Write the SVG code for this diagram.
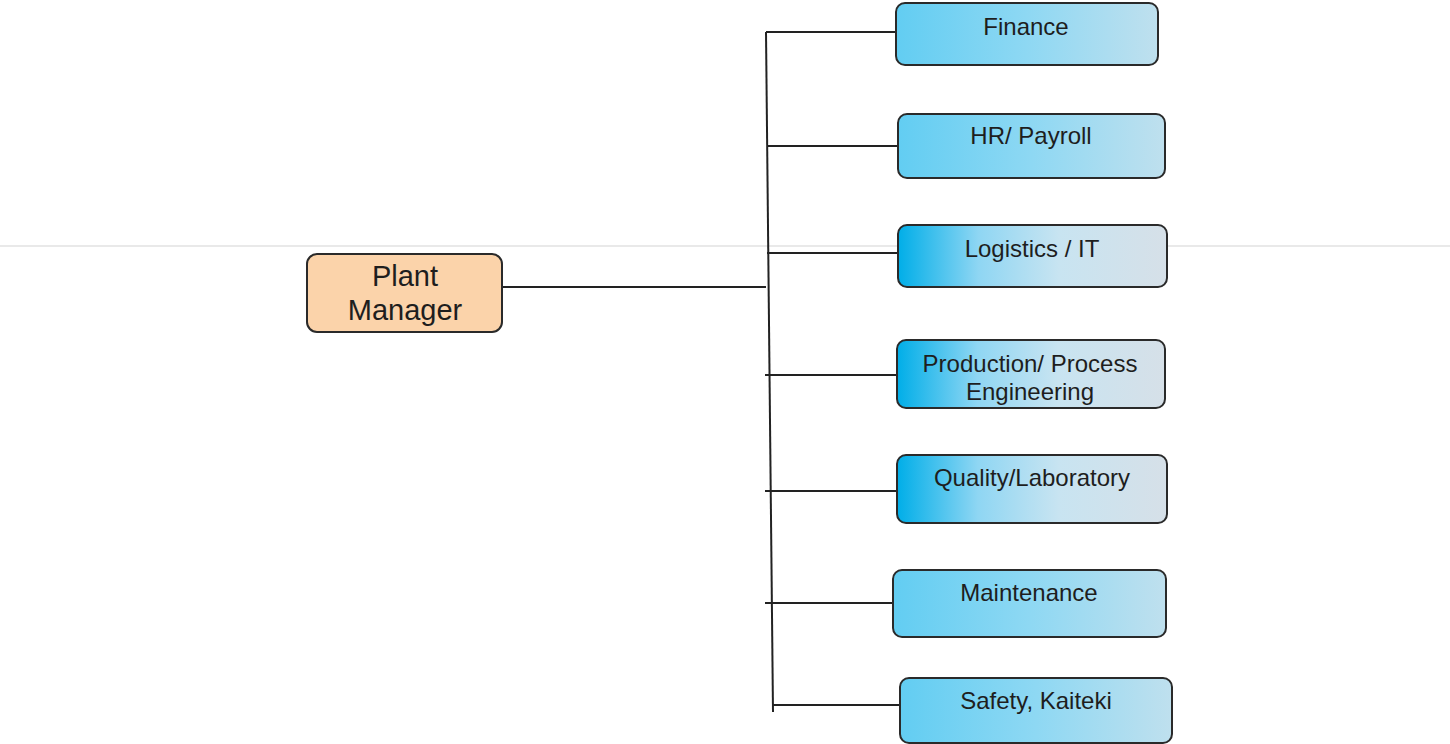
<svg xmlns="http://www.w3.org/2000/svg" width="1450" height="744" viewBox="0 0 1450 744">
<defs>
<linearGradient id="gA" x1="0" y1="0" x2="1" y2="0">
<stop offset="0" stop-color="#62cdf2"/>
<stop offset="0.5" stop-color="#8ed8f3"/>
<stop offset="1" stop-color="#bfe0ee"/>
</linearGradient>
<linearGradient id="gB" x1="0" y1="0" x2="1" y2="0">
<stop offset="0" stop-color="#00aee8"/>
<stop offset="0.3" stop-color="#8fd6f3"/>
<stop offset="0.6" stop-color="#c8e4f1"/>
<stop offset="1" stop-color="#d6e0e8"/>
</linearGradient>
<style>
.box{stroke:#2a2a2a;stroke-width:2}
.t{font-family:"Liberation Sans",Arial,sans-serif;font-size:24px;fill:#1e1e1e;text-anchor:middle}
.pm{font-family:"Liberation Sans",Arial,sans-serif;font-size:29px;fill:#1e1e1e;text-anchor:middle}
.c{stroke:#222;stroke-width:2;fill:none}
</style>
</defs>
<rect width="1450" height="744" fill="#ffffff"/>
<line x1="0" y1="246" x2="1450" y2="246" stroke="#e2e2e2" stroke-width="1.5"/>
<g id="connectors">
<line class="c" x1="766" y1="32" x2="773" y2="712"/>
<line class="c" x1="502" y1="287" x2="766" y2="287"/>
<line class="c" x1="766" y1="32" x2="897" y2="32"/>
<line class="c" x1="767" y1="146" x2="899" y2="146"/>
<line class="c" x1="767" y1="253" x2="899" y2="253"/>
<line class="c" x1="765" y1="375" x2="898" y2="375"/>
<line class="c" x1="765" y1="491" x2="898" y2="491"/>
<line class="c" x1="765" y1="603" x2="894" y2="603"/>
<line class="c" x1="773" y1="705" x2="901" y2="705"/>
</g>
<g id="plant-manager">
<rect class="box" x="307" y="254" width="195" height="78" rx="10" fill="#fbd3aa"/>
<text class="pm" x="405" y="286">Plant</text>
<text class="pm" x="405" y="320">Manager</text>
</g>
<g id="finance">
<rect class="box" x="896" y="3" width="262" height="62" rx="9" fill="url(#gA)"/>
<text class="t" x="1026" y="35">Finance</text>
</g>
<g id="hr-payroll">
<rect class="box" x="898" y="114" width="267" height="64" rx="9" fill="url(#gA)"/>
<text class="t" x="1031" y="144">HR/ Payroll</text>
</g>
<g id="logistics-it">
<rect class="box" x="898" y="225" width="269" height="62" rx="9" fill="url(#gB)"/>
<text class="t" x="1032" y="257">Logistics / IT</text>
</g>
<g id="production">
<rect class="box" x="897" y="340" width="268" height="68" rx="9" fill="url(#gB)"/>
<text class="t" x="1030" y="372">Production/ Process</text>
<text class="t" x="1030" y="400">Engineering</text>
</g>
<g id="quality">
<rect class="box" x="897" y="455" width="270" height="68" rx="9" fill="url(#gB)"/>
<text class="t" x="1032" y="486">Quality/Laboratory</text>
</g>
<g id="maintenance">
<rect class="box" x="893" y="570" width="273" height="67" rx="9" fill="url(#gA)"/>
<text class="t" x="1029" y="601">Maintenance</text>
</g>
<g id="safety">
<rect class="box" x="900" y="678" width="272" height="65" rx="9" fill="url(#gA)"/>
<text class="t" x="1036" y="709">Safety, Kaiteki</text>
</g>
</svg>
